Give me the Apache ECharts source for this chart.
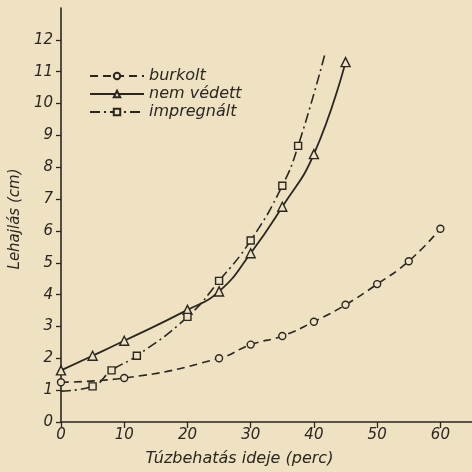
<!DOCTYPE html>
<html>
<head>
<meta charset="utf-8">
<script src="https://cdn.jsdelivr.net/npm/echarts@6/dist/echarts.min.js"></script>
<style>
html,body{margin:0;padding:0;background:#eee2c2;}
#c{width:472px;height:472px;}
</style>
</head>
<body>
<div id="c"></div>
<script>
// Data (x: minutes, y: cm)
var burkoltX = [0, 10, 25, 30, 35, 40, 45, 50, 55, 60];
var burkoltY = [1.25, 1.38, 2.0, 2.43, 2.7, 3.15, 3.68, 4.33, 5.05, 6.07];

var nemVedettX = [0, 5, 10, 20, 25, 30, 35, 40, 45];
var nemVedettY = [1.62, 2.08, 2.55, 3.52, 4.1, 5.3, 6.76, 8.41, 11.3];

// first and last points are line ends without a marker
var impregnaltX = [0, 5, 8, 12, 20, 25, 30, 35, 37.5, 41.8];
var impregnaltY = [0.97, 1.12, 1.62, 2.08, 3.3, 4.43, 5.7, 7.42, 8.67, 11.6];
var impregnaltMarked = [false, true, true, true, true, true, true, true, true, false];

var xTicks = [0, 10, 20, 30, 40, 50, 60];
var yTicks = [0, 1, 2, 3, 4, 5, 6, 7, 8, 9, 10, 11, 12];

function pts(xs, ys, marked) {
  return xs.map(function (x, i) {
    var p = { value: [x, ys[i]] };
    if (marked && !marked[i]) p.symbol = 'none';
    return p;
  });
}

var ink = '#2b2621';
var paper = '#eee2c2';
var font = '"DejaVu Sans", sans-serif';

var chart = echarts.init(document.getElementById('c'), null, { renderer: 'canvas' });
chart.setOption({
  backgroundColor: paper,
  animation: false,
  grid: { left: 57, right: 0, top: 8, bottom: 47 },
  legend: {
    left: 84, top: 63, orient: 'vertical', itemGap: 2,
    itemWidth: 54, itemHeight: 8,
    textStyle: { fontFamily: font, fontStyle: 'italic', fontSize: 16, color: ink },
    data: ['burkolt', 'nem védett', 'impregnált']
  },
  xAxis: {
    type: 'value', min: 0, max: 65, interval: 10,
    name: 'Túzbehatás ideje (perc)', nameLocation: 'middle', nameGap: 29,
    nameTextStyle: { fontFamily: font, fontStyle: 'italic', fontSize: 16, color: ink, padding: [0, 54, 0, 0] },
    axisLine: { onZero: false, lineStyle: { color: ink, width: 1.6 } },
    axisTick: { show: true, length: 6, lineStyle: { color: ink, width: 1.3 }, customValues: xTicks },
    axisLabel: { fontFamily: font, fontStyle: 'italic', fontSize: 15, color: ink, margin: 6, customValues: xTicks },
    splitLine: { show: false }
  },
  yAxis: {
    type: 'value', min: 0, max: 13, interval: 1,
    name: 'Lehajlás (cm)', nameLocation: 'middle', nameGap: 20, nameRotate: 90,
    nameTextStyle: { fontFamily: font, fontStyle: 'italic', fontSize: 15, color: ink, padding: [0, 8, 0, 0] },
    axisLine: { show: true, onZero: false, lineStyle: { color: ink, width: 1.6 } },
    axisTick: { show: true, length: 5, lineStyle: { color: ink, width: 1.3 }, customValues: yTicks },
    axisLabel: { fontFamily: font, fontStyle: 'italic', fontSize: 15, color: ink, margin: 8, customValues: yTicks },
    splitLine: { show: false }
  },
  series: [
    {
      name: 'burkolt', type: 'line', smooth: 0.5,
      symbol: 'circle', symbolSize: 7,
      itemStyle: { color: paper, borderColor: ink, borderWidth: 1.4 },
      lineStyle: { color: ink, width: 1.6, type: [8, 5] },
      data: pts(burkoltX, burkoltY)
    },
    {
      name: 'nem védett', type: 'line', smooth: 0.5,
      symbol: 'triangle', symbolSize: 9,
      itemStyle: { color: paper, borderColor: ink, borderWidth: 1.4 },
      lineStyle: { color: ink, width: 1.8, type: 'solid' },
      data: pts(nemVedettX, nemVedettY)
    },
    {
      name: 'impregnált', type: 'line', smooth: 0.5,
      symbol: 'rect', symbolSize: 7,
      itemStyle: { color: paper, borderColor: ink, borderWidth: 1.4 },
      lineStyle: { color: ink, width: 1.6, type: [10, 4, 2, 4] },
      data: pts(impregnaltX, impregnaltY, impregnaltMarked)
    }
  ]
});
</script>
</body>
</html>
